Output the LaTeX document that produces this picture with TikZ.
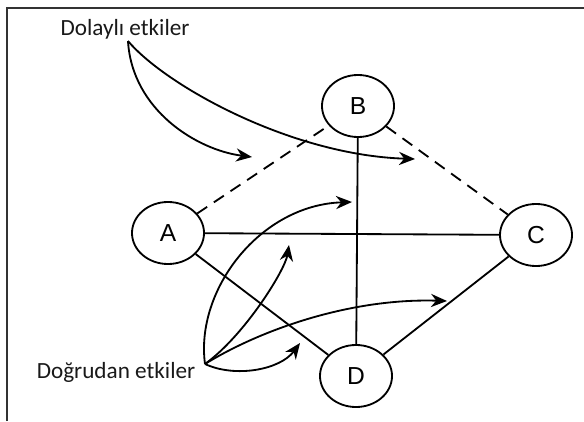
\documentclass[tikz,border=0pt]{standalone}
\usepackage{fontspec}
\setmainfont{Carlito}
\newfontfamily\letterfont{Liberation Sans}
\usetikzlibrary{positioning,arrows.meta,calc,shapes.geometric}
\tikzset{
  >={Stealth[length=4mm,width=3.3mm,inset=1.3mm]},
  vtx/.style={ellipse,draw=black,line width=1.3pt,minimum width=18mm,
    minimum height=15.5mm,inner sep=0pt,font=\letterfont\fontsize{17.5}{20}\selectfont},
  sedge/.style={line width=1.3pt},
  dedge/.style={line width=1.3pt,dash pattern=on 3mm off 2mm},
  eff/.style={->,line width=1.3pt},
  efflbl/.style={font=\fontsize{16.5}{20}\selectfont,inner sep=0pt,text=black!90},
  frameln/.style={line width=1.1pt,black!80},
}
\begin{document}
\begin{tikzpicture}[x=0.025cm,y=-0.025cm]
  \useasboundingbox (0,0) rectangle (584,421);
  \draw[frameln] (7,421) -- (7,8) -- (584,8);
  % vertices
  \node[vtx] (a) at (168,233) {A};
  \node[vtx] (b) at (358,106) {B};
  \node[vtx] (c) at (536,235) {C};
  \node[vtx] (d) at (356,376) {D};
  \draw[dedge] (a) -- (b);
  \draw[dedge] (b) -- (c);
  \draw[sedge] (a) -- (c);
  \draw[sedge] (a) -- (d);
  \draw[sedge] (b) -- (d);
  \draw[sedge] (c) -- (d);
  % labels
  \node[efflbl] (dol) at (125,29) {Dolaylı etkiler};
  \node[efflbl] (dog) at (116,372) {Doğrudan etkiler};
  \coordinate (dolsrc) at (128,41);
  \coordinate (dogsrc) at (205,364);
  \coordinate (i1) at (252,157);
  \coordinate (i2) at (415,159);
  \coordinate (d1) at (352,202);
  \coordinate (d2) at (289,245);
  \coordinate (d3) at (447,301);
  \coordinate (d4) at (300,343);
  % indirect effects
  \draw[eff] (dolsrc) .. controls (132,110) and (197,150) .. (i1);
  \draw[eff] (dolsrc) .. controls (165,85) and (290,155) .. (i2);
  % direct effects
  \draw[eff] (dogsrc) .. controls (195,290) and (260,205) .. (d1);
  \draw[eff] (dogsrc) .. controls (245,335) and (285,270) .. (d2);
  \draw[eff] (dogsrc) .. controls (260,330) and (350,298) .. (d3);
  \draw[eff] (dogsrc) .. controls (235,378) and (280,370) .. (d4);
\end{tikzpicture}
\end{document}
